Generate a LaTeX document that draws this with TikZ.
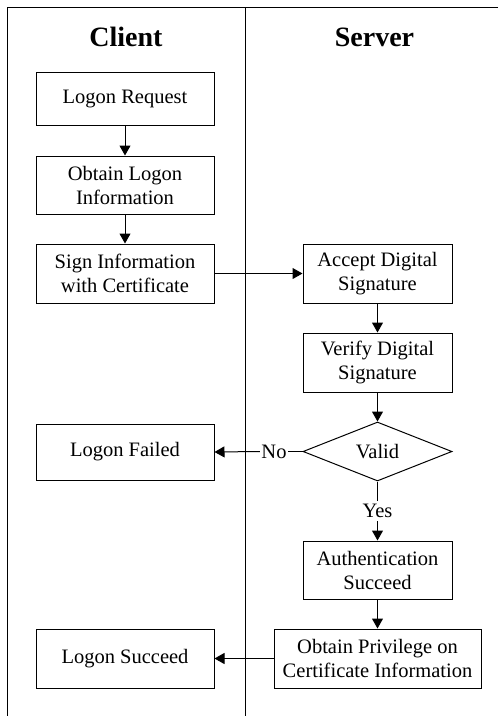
\documentclass[tikz,border=0pt]{standalone}
\usepackage{fontspec}
\setmainfont{Liberation Serif}
\usetikzlibrary{shapes.geometric,arrows.meta}

\tikzset{
  box/.style={draw, line width=1pt, rectangle, inner sep=0pt, align=center,
              font=\fontsize{20.5}{24}\selectfont},
  lbox/.style={box, minimum width=178pt},
  rbox/.style={box, minimum width=149pt},
  decision/.style={draw, line width=1pt, diamond, inner sep=0pt, minimum width=149pt,
                   minimum height=59pt, font=\fontsize{20.5}{24}\selectfont},
  lbl/.style={inner sep=1.5pt, font=\fontsize{20.5}{24}\selectfont},
  head/.style={font=\fontsize{28}{32}\selectfont\bfseries},
  lane/.style={line width=1pt},
  flow/.style={line width=1pt, -{Triangle[length=10pt,width=11pt]}},
  plain/.style={line width=1pt}
}

\begin{document}
\begin{tikzpicture}[x=1pt, y=-1pt]
  \useasboundingbox (0,0) rectangle (499,716);

  % swimlane frame
  \coordinate (tl) at (7,7);
  \coordinate (tr) at (498,7);
  \coordinate (bl) at (7,716);
  \coordinate (mt) at (245,7);
  \coordinate (mb) at (245,716);
  \draw[lane] (tr) -- (tl) -- (bl);
  \draw[lane] (mt) -- (mb);

  % lane headings
  \node[head] (client) at (126,37) {Client};
  \node[head] (server) at (374.5,37) {Server};

  % client lane
  \node[lbox, minimum height=53pt] (req)    at (125,98.5) {Logon Request};
  \node[lbox, minimum height=58pt] (info)   at (125,185)  {Obtain Logon\\Information};
  \node[lbox, minimum height=59pt] (sign)   at (125,273.5){Sign Information\\with Certificate};
  \node[lbox, minimum height=56pt] (failed) at (125,452)  {Logon Failed};
  \node[lbox, minimum height=59pt] (ok)     at (125,658.5){Logon Succeed};

  % server lane
  \node[rbox, minimum height=59pt] (accept) at (377.5,273.5){Accept Digital\\Signature};
  \node[rbox, minimum height=59pt] (verify) at (377.5,362.5){Verify Digital\\Signature};
  \node[decision] (valid) at (377.5,451.5) {Valid};
  \node[rbox, minimum height=58pt] (auth)   at (377.5,570)  {Authentication\\Succeed};
  \node[box, minimum width=207pt, minimum height=59pt] (priv) at (377.5,658.5)
       {Obtain Privilege on\\Certificate Information};

  % branch labels
  \node[lbl] (no)  at (274,451.5) {No};
  \node[lbl, inner sep=3pt] (yes) at (377.5,511) {Yes};

  % connectors
  \draw[flow] (req) -- (info);
  \draw[flow] (info) -- (sign);
  \draw[flow] (sign) -- (accept);
  \draw[flow] (accept) -- (verify);
  \draw[flow] (verify) -- (valid);
  \draw[plain] (valid.west) -- (no.east);
  \draw[flow] (no.west) -- (failed.east);
  \draw[plain] (valid.south) -- (yes.north);
  \draw[flow] (yes.south) -- (auth.north);
  \draw[flow] (auth) -- (priv);
  \draw[flow] (priv.west) -- (ok.east);
\end{tikzpicture}
\end{document}
